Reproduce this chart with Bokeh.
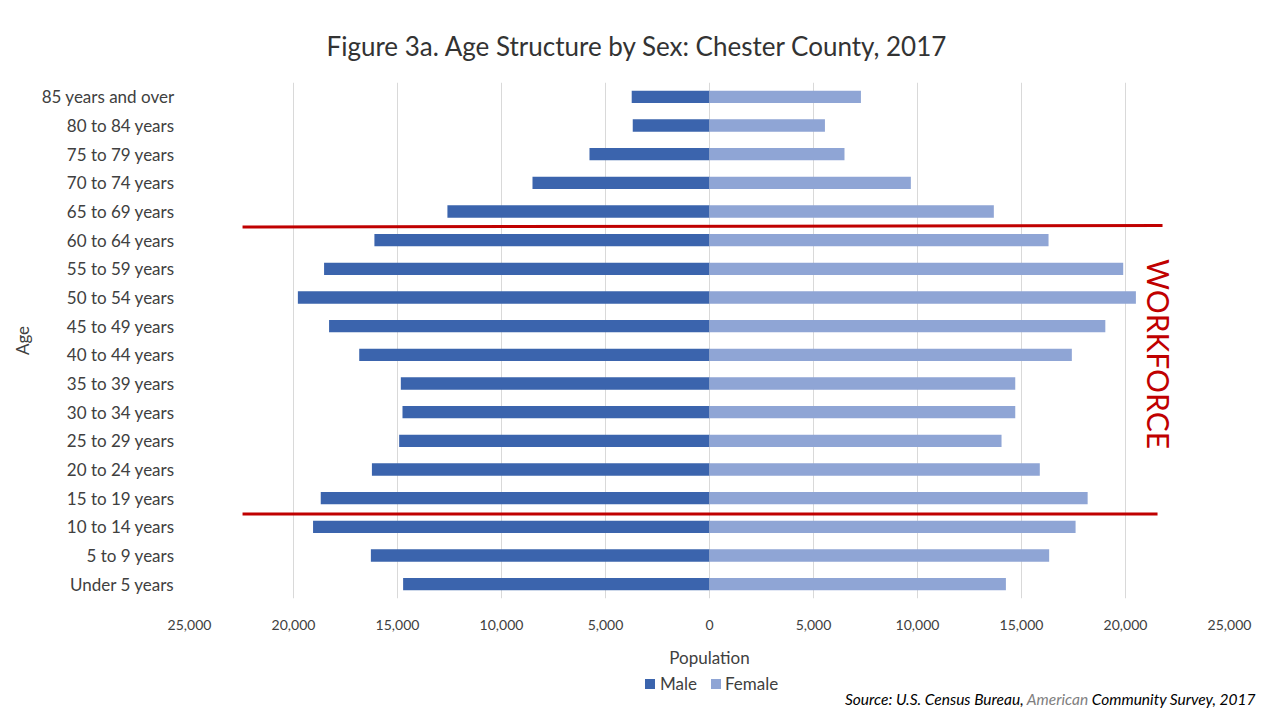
from bokeh.plotting import figure
from bokeh.models import FixedTicker, Range1d, ColumnDataSource, Div, Label
from bokeh.layouts import column
from bokeh.embed import file_html
from bokeh.resources import INLINE

# ---------------- data ----------------
age_groups = [
    "Under 5 years", "5 to 9 years", "10 to 14 years", "15 to 19 years",
    "20 to 24 years", "25 to 29 years", "30 to 34 years", "35 to 39 years",
    "40 to 44 years", "45 to 49 years", "50 to 54 years", "55 to 59 years",
    "60 to 64 years", "65 to 69 years", "70 to 74 years", "75 to 79 years",
    "80 to 84 years", "85 years and over",
]
male = [14730, 16280, 19060, 18690, 16230, 14920, 14760, 14840, 16840,
        18290, 19790, 18530, 16110, 12600, 8510, 5770, 3690, 3740]
female = [14250, 16330, 17600, 18180, 15880, 14040, 14700, 14700, 17420,
          19030, 20500, 19890, 16300, 13670, 9680, 6490, 5550, 7280]
x_ticks = [-25000, -20000, -15000, -10000, -5000, 0, 5000, 10000, 15000, 20000, 25000]
series_names = ["Male", "Female"]

# workforce divider lines (between age bands), slightly uneven as in the source
divider_y_start = [12.46, 2.45]
divider_y_end = [12.51, 2.45]
divider_x_start = [-22450, -22450]
divider_x_end = [21780, 21540]

# ---------------- layout ----------------
W, H = 1267, 670
FL, FR, FT = 189, 38, 82
FB = H - 598
X0, X1 = -25000, 25000
Y0, Y1 = -0.5, len(age_groups) - 0.5

FONT = "Lato"
TXT = "#404040"
MALE_C = "#3B64AD"
FEMALE_C = "#8FA5D5"

p = figure(width=W, height=H, output_backend="svg", toolbar_location=None,
           x_range=Range1d(X0, X1), y_range=Range1d(Y0, Y1),
           min_border_left=FL, min_border_right=FR, min_border_top=FT, min_border_bottom=FB,
           title="Figure 3a. Age Structure by Sex: Chester County, 2017")
p.outline_line_color = None
p.background_fill_color = "white"
p.border_fill_color = "white"

p.title.align = "left"
p.title.offset = 137
p.title.text_font = FONT
p.title.text_font_size = "26px"
p.title.text_font_style = "normal"
p.title.text_color = "#333333"
p.title.standoff = 41

src = ColumnDataSource(dict(
    y=list(range(len(age_groups))),
    male_left=[-v for v in male],
    female_right=female,
    zero=[0] * len(age_groups),
))

rm = p.hbar(y="y", left="male_left", right="zero", height=0.43, source=src,
            fill_color=MALE_C, line_color=None)
rf = p.hbar(y="y", left="zero", right="female_right", height=0.43, source=src,
            fill_color=FEMALE_C, line_color=None)

# grid
p.xgrid.ticker = FixedTicker(ticks=x_ticks)
p.xgrid.grid_line_color = "#D9D9D9"
p.xgrid.grid_line_width = 1
p.ygrid.grid_line_color = None

# x axis
xa = p.xaxis[0]
xa.ticker = FixedTicker(ticks=x_ticks)
xa.major_label_overrides = {t: f"{abs(t):,}" for t in x_ticks}
xa.axis_line_color = None
xa.major_tick_line_color = None
xa.minor_tick_line_color = None
xa.major_tick_out = 0
xa.major_tick_in = 0
xa.major_label_standoff = 21
xa.major_label_text_font = FONT
xa.major_label_text_font_size = "14px"
xa.major_label_text_color = TXT
xa.axis_label = "Population"
xa.axis_label_standoff = 14
xa.axis_label_text_font = FONT
xa.axis_label_text_font_size = "17px"
xa.axis_label_text_font_style = "normal"
xa.axis_label_text_color = TXT

# y axis
ya = p.yaxis[0]
ya.ticker = FixedTicker(ticks=list(range(len(age_groups))))
ya.major_label_overrides = {i: g for i, g in enumerate(age_groups)}
ya.axis_line_color = None
ya.major_tick_line_color = None
ya.minor_tick_line_color = None
ya.major_tick_out = 0
ya.major_tick_in = 0
ya.major_label_standoff = 15
ya.major_label_text_font = FONT
ya.major_label_text_font_size = "17px"
ya.major_label_text_color = TXT
ya.axis_label = "Age"
ya.axis_label_standoff = 6
ya.axis_label_text_font = FONT
ya.axis_label_text_font_size = "17px"
ya.axis_label_text_font_style = "normal"
ya.axis_label_text_color = TXT

# workforce lines
p.segment(x0=divider_x_start, y0=divider_y_start, x1=divider_x_end, y1=divider_y_end,
          line_color="#C00000", line_width=3)

# WORKFORCE annotation (inside the plot frame)
p.add_layout(Label(x=21600, y=8.03, text="WORKFORCE", angle=-1.5708,
                   text_align="center", text_baseline="middle", text_font=FONT,
                   text_font_size="30px", text_color="#C00000"))

# legend + source note row below the chart
legend_html = (
    f'<div style="position:absolute; left:645px; top:9px; width:10px; height:10px; background:{MALE_C};"></div>'
    f'<div style="position:absolute; left:660px; top:4px; line-height:20px; font-size:17px; color:{TXT};">{series_names[0]}</div>'
    f'<div style="position:absolute; left:711px; top:9px; width:10px; height:10px; background:{FEMALE_C};"></div>'
    f'<div style="position:absolute; left:725px; top:4px; line-height:20px; font-size:17px; color:{TXT};">{series_names[1]}</div>'
)
source_html = (
    '<div style="position:absolute; left:845px; top:21px; line-height:16px; font-size:15.5px; '
    'font-style:italic; white-space:nowrap; color:#000000;">'
    'Source: U.S. Census Bureau, <span style="color:#808080">American</span> '
    'Community Survey, 2017</div>'
)
footer = Div(
    text=f'<div style="position:relative; width:{W}px; height:{717 - H}px; font-family:{FONT};">'
         + legend_html + source_html + '</div>',
    width=W, height=717 - H, margin=0)

layout = column(p, footer, spacing=0)
open("out.html", "w").write(file_html(layout, INLINE))
